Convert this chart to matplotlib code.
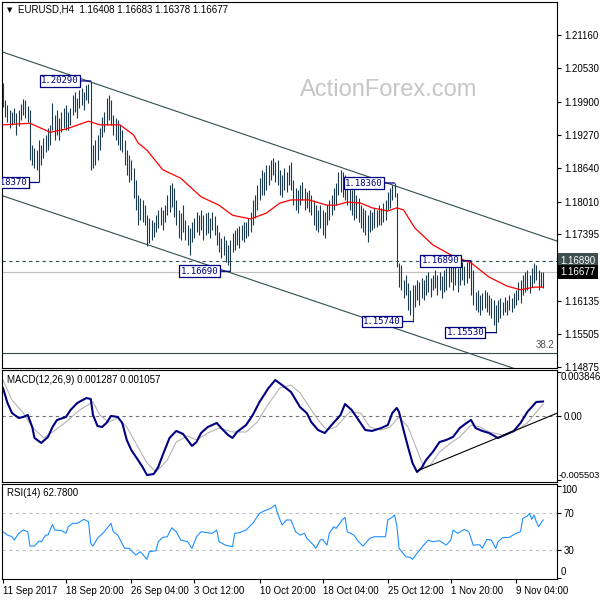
import matplotlib
matplotlib.use('Agg')
import matplotlib.pyplot as plt
import matplotlib.transforms as mtransforms

plt.rcParams['font.family'] = ['Liberation Sans Narrow', 'Liberation Sans', 'DejaVu Sans']
plt.rcParams['font.size'] = 7

# H4 bars, EURUSD (high / low per bar)
highs = [1.2025, 1.1993, 1.1984, 1.1974, 1.1970, 1.1978, 1.1968, 1.1974, 1.1985, 1.1995,
         1.1993, 1.1982, 1.1974, 1.1908, 1.1902, 1.1898, 1.1917, 1.1908, 1.1921, 1.1927,
         1.1940, 1.1946, 1.1987, 1.1965, 1.1974, 1.1959, 1.1970, 1.1978, 1.1984, 1.1970,
         1.1978, 1.2002, 1.2008, 1.1997, 1.2012, 1.2016, 1.2008, 1.2021, 1.2023, 1.2029,
         1.1908, 1.1917, 1.1927, 1.1940, 1.1961, 1.1970, 1.1997, 1.2002, 1.1993, 1.1965,
         1.1959, 1.1955, 1.1946, 1.1936, 1.1917, 1.1898, 1.1889, 1.1879, 1.1864, 1.1842,
         1.1813, 1.1808, 1.1804, 1.1794, 1.1775, 1.1770, 1.1766, 1.1762, 1.1775, 1.1785,
         1.1791, 1.1785, 1.1794, 1.1813, 1.1832, 1.1836, 1.1827, 1.1804, 1.1785, 1.1779,
         1.1794, 1.1766, 1.1757, 1.1751, 1.1762, 1.1770, 1.1781, 1.1775, 1.1785, 1.1775,
         1.1779, 1.1781, 1.1770, 1.1781, 1.1774, 1.1757, 1.1743, 1.1732, 1.1736, 1.1728,
         1.1719, 1.1728, 1.1741, 1.1747, 1.1751, 1.1755, 1.1757, 1.1762, 1.1762, 1.1770,
         1.1781, 1.1804, 1.1813, 1.1832, 1.1845, 1.1861, 1.1857, 1.1870, 1.1870, 1.1879,
         1.1883, 1.1876, 1.1879, 1.1861, 1.1851, 1.1864, 1.1857, 1.1870, 1.1876, 1.1842,
         1.1827, 1.1823, 1.1832, 1.1838, 1.1827, 1.1819, 1.1823, 1.1813, 1.1804, 1.1794,
         1.1785, 1.1794, 1.1785, 1.1781, 1.1794, 1.1804, 1.1813, 1.1827, 1.1836, 1.1857,
         1.1861, 1.1857, 1.1851, 1.1842, 1.1832, 1.1823, 1.1827, 1.1813, 1.1808, 1.1794,
         1.1789, 1.1785, 1.1775, 1.1785, 1.1781, 1.1789, 1.1785, 1.1794, 1.1789, 1.1798,
         1.1804, 1.1819, 1.1827, 1.1832, 1.1836, 1.1817, 1.1685, 1.1681, 1.1652, 1.1662,
         1.1647, 1.1634, 1.1643, 1.1643, 1.1652, 1.1649, 1.1656, 1.1652, 1.1662, 1.1668,
         1.1656, 1.1662, 1.1671, 1.1662, 1.1668, 1.1660, 1.1671, 1.1675, 1.1681, 1.1687,
         1.1681, 1.1687, 1.1675, 1.1681, 1.1687, 1.1679, 1.1687, 1.1686, 1.1689, 1.1671,
         1.1630, 1.1634, 1.1624, 1.1628, 1.1634, 1.1630, 1.1624, 1.1618, 1.1615, 1.1605,
         1.1615, 1.1618, 1.1611, 1.1620, 1.1615, 1.1624, 1.1618, 1.1628, 1.1634, 1.1649,
         1.1652, 1.1662, 1.1668, 1.1671, 1.1662, 1.1675, 1.1685, 1.1681, 1.1671, 1.1668, 1.16683]
lows = [1.1980, 1.1961, 1.1951, 1.1940, 1.1946, 1.1949, 1.1927, 1.1944, 1.1955, 1.1965,
        1.1959, 1.1951, 1.1879, 1.1870, 1.1864, 1.1861, 1.1837, 1.1870, 1.1883, 1.1895,
        1.1898, 1.1908, 1.1936, 1.1917, 1.1927, 1.1917, 1.1932, 1.1940, 1.1936, 1.1936,
        1.1946, 1.1965, 1.1970, 1.1959, 1.1978, 1.1984, 1.1974, 1.1993, 1.1987, 1.1861,
        1.1864, 1.1870, 1.1879, 1.1898, 1.1923, 1.1932, 1.1946, 1.1955, 1.1946, 1.1927,
        1.1917, 1.1908, 1.1898, 1.1895, 1.1870, 1.1851, 1.1838, 1.1842, 1.1808, 1.1785,
        1.1757, 1.1766, 1.1762, 1.1757, 1.1717, 1.1723, 1.1728, 1.1734, 1.1743, 1.1751,
        1.1757, 1.1747, 1.1762, 1.1775, 1.1781, 1.1791, 1.1772, 1.1757, 1.1732, 1.1728,
        1.1743, 1.1728, 1.1719, 1.1700, 1.1724, 1.1732, 1.1743, 1.1738, 1.1747, 1.1728,
        1.1738, 1.1741, 1.1732, 1.1747, 1.1738, 1.1719, 1.1705, 1.1694, 1.1700, 1.1687,
        1.1681, 1.1669, 1.1705, 1.1709, 1.1719, 1.1713, 1.1728, 1.1724, 1.1732, 1.1736,
        1.1743, 1.1757, 1.1770, 1.1785, 1.1804, 1.1813, 1.1813, 1.1823, 1.1832, 1.1842,
        1.1851, 1.1838, 1.1832, 1.1813, 1.1810, 1.1823, 1.1819, 1.1832, 1.1823, 1.1794,
        1.1785, 1.1779, 1.1794, 1.1804, 1.1785, 1.1789, 1.1781, 1.1775, 1.1757, 1.1747,
        1.1743, 1.1751, 1.1738, 1.1732, 1.1757, 1.1766, 1.1775, 1.1785, 1.1794, 1.1813,
        1.1819, 1.1810, 1.1804, 1.1794, 1.1785, 1.1775, 1.1766, 1.1770, 1.1762, 1.1751,
        1.1743, 1.1738, 1.1724, 1.1743, 1.1747, 1.1751, 1.1753, 1.1757, 1.1757, 1.1762,
        1.1766, 1.1785, 1.1789, 1.1804, 1.1810, 1.1677, 1.1639, 1.1634, 1.1618, 1.1624,
        1.1596, 1.1586, 1.1574, 1.1601, 1.1615, 1.1605, 1.1618, 1.1615, 1.1624, 1.1630,
        1.1620, 1.1634, 1.1637, 1.1624, 1.1634, 1.1618, 1.1630, 1.1634, 1.1639, 1.1649,
        1.1634, 1.1643, 1.1630, 1.1643, 1.1652, 1.1643, 1.1647, 1.1656, 1.1624, 1.1605,
        1.1596, 1.1592, 1.1586, 1.1596, 1.1600, 1.1592, 1.1586, 1.1581, 1.1567, 1.1553,
        1.1573, 1.1581, 1.1586, 1.1592, 1.1586, 1.1596, 1.1592, 1.1600, 1.1605, 1.1615,
        1.1609, 1.1624, 1.1630, 1.1634, 1.1628, 1.1639, 1.1647, 1.1652, 1.1634, 1.1639, 1.16378]

# red moving average (bar index, price)
ma_idx = [0, 12, 21, 28, 38, 43, 52, 58, 60, 64, 71, 79, 88, 96, 102, 110, 117, 123, 128, 136,
          144, 148, 153, 159, 164, 171, 175, 178, 183, 191, 199, 208, 216, 224, 230, 236, 240]
ma_vals = [1.1946, 1.1949, 1.1932, 1.1938, 1.1953, 1.1946, 1.1946, 1.1927, 1.1912, 1.1898,
           1.1861, 1.1845, 1.1810, 1.1794, 1.1775, 1.1768, 1.1779, 1.1798, 1.1804, 1.1804,
           1.1794, 1.1794, 1.1800, 1.1798, 1.1789, 1.1783, 1.1789, 1.1785, 1.1751, 1.1719,
           1.1700, 1.1685, 1.1658, 1.1641, 1.1634, 1.1639, 1.1639]

# channel lines, fixed levels
upper_x, upper_y = [-1, 247], [1.2085, 1.1725]
lower_x, lower_y = [-1, 230], [1.1813, 1.1481]
level_dash = 1.1689
level_bid = 1.16677
level_fib = 1.15144

# swing labels
lab_idx = [39, 16, 101, 174, 208, 182, 219]
lab_price = [1.2029, 1.1837, 1.1669, 1.1836, 1.1689, 1.1574, 1.1553]
lab_text = ['1.20290', '1.18370', '1.16690', '1.18360', '1.16890', '1.15740', '1.15530']

price_ticks = [1.21160, 1.20530, 1.19900, 1.19270, 1.18640, 1.18010, 1.17395,
               1.16135, 1.15505, 1.14875]

# MACD(12,26,9)
macd_idx = [0, 2, 4, 7, 9, 11, 13, 14, 17, 20, 22, 24, 28, 30, 33, 37, 39, 40, 42, 44,
            46, 48, 51, 53, 55, 57, 60, 62, 64, 67, 69, 71, 74, 77, 80, 82, 84, 86, 88, 91,
            95, 97, 100, 102, 104, 108, 111, 114, 118, 121, 124, 128, 132, 135, 137, 140, 143, 146, 150, 152,
            155, 158, 161, 164, 168, 171, 173, 175, 176, 178, 180, 182, 184, 186, 188, 191, 194, 197, 200, 203,
            206, 208, 210, 213, 216, 220, 223, 227, 230, 233, 237, 240]
macd_vals = [0.00246, 0.00116, 0.00029, -0.00014, -0.00005, 0.00012, -0.00092, -0.00187, -0.00230, -0.00178,
             -0.00092, -0.00031, -0.00005, 0.00055, 0.00116, 0.00159, 0.00151, 0.00012, -0.00083, -0.00092,
             -0.00057, 0.00004, -0.00005, -0.00057, -0.00204, -0.00291, -0.00378, -0.00438, -0.00508, -0.00499,
             -0.00438, -0.00334, -0.00187, -0.00126, -0.00152, -0.00204, -0.00256, -0.00222, -0.00144, -0.00092,
             -0.00057, -0.00101, -0.00161, -0.00187, -0.00135, -0.00075, 0.00012, 0.00125, 0.00246, 0.00315,
             0.00272, 0.00211, 0.00081, 0.00029, -0.00049, -0.00118, -0.00144, -0.00075, 0.00012, 0.00107,
             0.00055, -0.00031, -0.00118, -0.00126, -0.00101, -0.00075, 0.00029, 0.00073, 0.00038, -0.00118,
             -0.00265, -0.00404, -0.00482, -0.00447, -0.00378, -0.00308, -0.00222, -0.00204, -0.00178, -0.00101,
             -0.00057, -0.00031, -0.00101, -0.00126, -0.00144, -0.00187, -0.00161, -0.00126, -0.00057, 0.00038,
             0.00125, 0.00129]
sig_idx = [0, 4, 9, 13, 18, 22, 28, 34, 40, 43, 47, 51, 55, 60, 64, 68, 73, 77, 82, 86,
           91, 96, 102, 108, 113, 117, 123, 128, 132, 135, 140, 144, 148, 154, 159, 163, 168, 172, 176, 180,
           184, 187, 190, 194, 199, 203, 208, 212, 216, 222, 227, 233, 240]
sig_vals = [0.00315, 0.00142, 0.00029, -0.00092, -0.00187, -0.00135, -0.00049, 0.00055, 0.00125, 0.00012,
            -0.00049, -0.00014, -0.00092, -0.00265, -0.00404, -0.00482, -0.00378, -0.00222, -0.00170, -0.00204,
            -0.00144, -0.00101, -0.00135, -0.00135, -0.00049, 0.00081, 0.00246, 0.00272, 0.00203, 0.00116,
            -0.00031, -0.00118, -0.00092, 0.00038, 0.00029, -0.00092, -0.00118, -0.00092, -0.00005, -0.00092,
            -0.00291, -0.00438, -0.00421, -0.00308, -0.00230, -0.00178, -0.00075, -0.00092, -0.00135, -0.00161,
            -0.00135, -0.00057, 0.00106]
macd_trend_x, macd_trend_y = [184, 246.5], [-0.00473, 0.00030]

# RSI(14)
rsi_idx = [0, 2, 4, 5, 7, 9, 11, 12, 14, 16, 17, 19, 20, 22, 23, 26, 28, 29, 31, 33,
           36, 38, 39, 40, 42, 45, 48, 49, 51, 54, 56, 59, 61, 64, 65, 68, 69, 71, 73, 75,
           77, 79, 82, 84, 86, 88, 91, 93, 95, 96, 99, 102, 103, 105, 108, 111, 114, 116, 119, 121,
           122, 124, 126, 128, 130, 132, 134, 135, 138, 139, 141, 142, 144, 145, 147, 148, 151, 152, 153, 156,
           158, 160, 163, 165, 168, 170, 171, 173, 174, 175, 176, 179, 181, 182, 184, 187, 189, 191, 194, 197,
           199, 200, 202, 205, 207, 209, 211, 212, 213, 215, 217, 219, 220, 222, 225, 228, 230, 231, 233, 234,
           235, 236, 237, 238, 240]
rsi_vals = [50.1, 46.5, 44.7, 41.1, 48.4, 51.9, 50.1, 34.6, 34.6, 40.0, 39.3, 46.5, 46.5, 58.1, 51.9, 51.3, 48.4, 55.5, 59.2, 59.2,
            63.5, 60.9, 37.6, 34.6, 43.0, 50.1, 59.2, 50.1, 46.5, 32.2, 32.2, 24.9, 28.5, 20.3, 28.5, 29.6, 39.3, 44.0, 44.7, 54.4,
            50.1, 41.1, 39.3, 32.2, 44.7, 50.1, 49.0, 48.4, 51.9, 39.3, 35.4, 33.9, 48.4, 49.0, 51.9, 59.2, 70.0, 72.5, 75.4, 79.0,
            70.0, 57.4, 62.8, 62.8, 50.1, 46.5, 48.4, 43.0, 35.7, 32.2, 41.1, 41.8, 35.7, 48.4, 55.5, 53.7, 63.5, 65.7, 50.1, 46.5,
            39.3, 34.6, 43.0, 44.7, 44.7, 44.7, 62.8, 65.7, 68.2, 57.4, 32.2, 23.1, 22.4, 20.3, 26.8, 35.7, 41.1, 39.3, 40.4, 35.7,
            41.1, 51.9, 48.4, 52.6, 50.1, 35.4, 36.1, 35.7, 32.2, 41.8, 41.1, 32.2, 39.3, 43.7, 44.0, 48.4, 50.1, 64.6, 67.1, 70.0,
            63.5, 68.2, 60.9, 55.5, 62.78]

date_idx = [0, 28, 57, 85, 114, 142, 171, 199, 228]
date_labels = ['11 Sep 2017', '18 Sep 20:00', '26 Sep 04:00', '3 Oct 12:00', '10 Oct 20:00',
               '18 Oct 04:00', '25 Oct 12:00', '1 Nov 20:00', '9 Nov 04:00']

bar_col = '#1b3a4b'
chan_col = '#2f4f4f'
navy = '#000080'
XLIM = (-0.44, 246.2)

fig = plt.figure(figsize=(6, 6), dpi=100)


def rect(top, bottom):
    # pixel rows of the 600px image -> figure rect
    return [2 / 600, 1 - bottom / 600, 555 / 600, (bottom - top) / 600]


def frame(a):
    for s in a.spines.values():
        s.set_color('black')
        s.set_linewidth(0.8)
    a.set_xlim(*XLIM)


# ---- price panel
ax = fig.add_axes(rect(2, 367.5))
frame(ax)
ax.text(0.537, 0.759, 'ActionForex.com', transform=ax.transAxes, fontsize=17,
        family='Liberation Sans', color='#c6c6c6', ha='left', va='center', zorder=0)
ax.axhline(level_bid, color='#c0c0c0', lw=0.8, zorder=1)
ax.axhline(level_dash, color=chan_col, lw=0.8, ls=(0, (3, 3)), zorder=1)
ax.axhline(level_fib, color='#3a4a4a', lw=0.8, zorder=1)
ax.annotate('38.2', xy=(1, level_fib), xycoords=('axes fraction', 'data'), xytext=(-2, 2),
            textcoords='offset points', ha='right', va='bottom', color='#505050', fontsize=7)
ax.plot(upper_x, upper_y, color=chan_col, lw=0.8, zorder=2)
ax.plot(lower_x, lower_y, color=chan_col, lw=0.8, zorder=2)
ax.vlines(range(len(highs)), lows, highs, color=bar_col, lw=0.8, zorder=3)
ax.plot(ma_idx, ma_vals, color='red', lw=0.9, zorder=4)

for i, p, s in zip(lab_idx, lab_price, lab_text):
    t = ax.annotate(s, xy=(i, p), xytext=(-8.5, 0), textcoords='offset points',
                    ha='right', va='center', fontsize=6.5, family='DejaVu Sans Mono', color=navy,
                    bbox=dict(boxstyle='square,pad=0.15', fc='white', ec=navy, lw=0.9),
                    arrowprops=dict(arrowstyle='-', color=navy, lw=0.9, shrinkA=0, shrinkB=0),
                    zorder=5)
    t.set_clip_box(ax.bbox)

ax.set_ylim(1.14870, 1.21784)
ax.yaxis.tick_right()
ax.set_yticks(price_ticks)
ax.set_yticklabels([f'{p:.5f}' for p in price_ticks])
ax.tick_params(axis='y', length=3, width=0.8, pad=2, labelsize=7)
ax.set_xticks([])

tr = mtransforms.blended_transform_factory(ax.transAxes, ax.transData)
ax.text(1.006, level_dash, '1.16890', transform=tr, ha='left', va='center', color='white',
        fontsize=7, clip_on=False,
        bbox=dict(boxstyle='square,pad=0.25', fc='#3f4f4f', ec='none'))
ax.text(1.006, level_bid, '1.16677', transform=tr, ha='left', va='center', color='white',
        fontsize=7, clip_on=False,
        bbox=dict(boxstyle='square,pad=0.25', fc='black', ec='none'))

fig.text(7 / 600, 1 - 10 / 600, '\u25bc', family='DejaVu Sans', fontsize=5, va='center', ha='left')
fig.text(18 / 600, 1 - 10 / 600, 'EURUSD,H4  1.16408 1.16683 1.16378 1.16677',
         fontsize=7, va='center', ha='left')

# ---- MACD panel
ax2 = fig.add_axes(rect(370, 481.5))
frame(ax2)
ax2.axhline(0, color='#707070', lw=0.8, ls=(0, (3, 3)))
ax2.plot(sig_idx, sig_vals, color='#b4b4b4', lw=0.8)
ax2.plot(macd_idx, macd_vals, color=navy, lw=1.5)
ax2.plot(macd_trend_x, macd_trend_y, color='black', lw=0.8)
ax2.set_ylim(-0.00564, 0.00402)
ax2.yaxis.tick_right()
ax2.set_yticks([-0.005503, 0.0, 0.003846])
ax2.set_yticklabels(['', '0.00', ''])
ax2.tick_params(axis='y', length=3, width=0.8, pad=2, labelsize=7)
ax2.set_xticks([])
ax2.text(1.006, 0.937, '0.003846', transform=ax2.transAxes, ha='left', va='center', fontsize=7)
ax2.text(1.002, 0.058, '-0.005503', transform=ax2.transAxes, ha='left', va='center', fontsize=6.6)
ax2.text(0.009, 0.91, 'MACD(12,26,9) 0.001287 0.001057', transform=ax2.transAxes,
         ha='left', va='center', fontsize=7)

# ---- RSI panel
ax3 = fig.add_axes(rect(484, 579))
frame(ax3)
ax3.axhline(70, color='#c0c0c0', lw=0.8, ls=(0, (3, 3)))
ax3.axhline(30, color='#c0c0c0', lw=0.8, ls=(0, (3, 3)))
ax3.plot(rsi_idx, rsi_vals, color='#1e90ff', lw=0.8)
ax3.set_ylim(-1.0, 101.7)
ax3.yaxis.tick_right()
ax3.set_yticks([0, 30, 70, 100])
ax3.set_yticklabels(['', '30', '70', ''])
ax3.tick_params(axis='y', length=3, width=0.8, pad=2, labelsize=7)
ax3.text(1.007, 0.937, '100', transform=ax3.transAxes, ha='left', va='center', fontsize=7)
ax3.text(1.007, 0.074, '0', transform=ax3.transAxes, ha='left', va='center', fontsize=7)
ax3.text(0.009, 0.905, 'RSI(14) 62.7800', transform=ax3.transAxes, ha='left', va='center', fontsize=7)
ax3.set_xticks(date_idx)
ax3.set_xticklabels(date_labels, ha='left')
ax3.tick_params(axis='x', length=3, width=0.8, pad=2, labelsize=7)

fig.savefig('out.png', dpi=100)
